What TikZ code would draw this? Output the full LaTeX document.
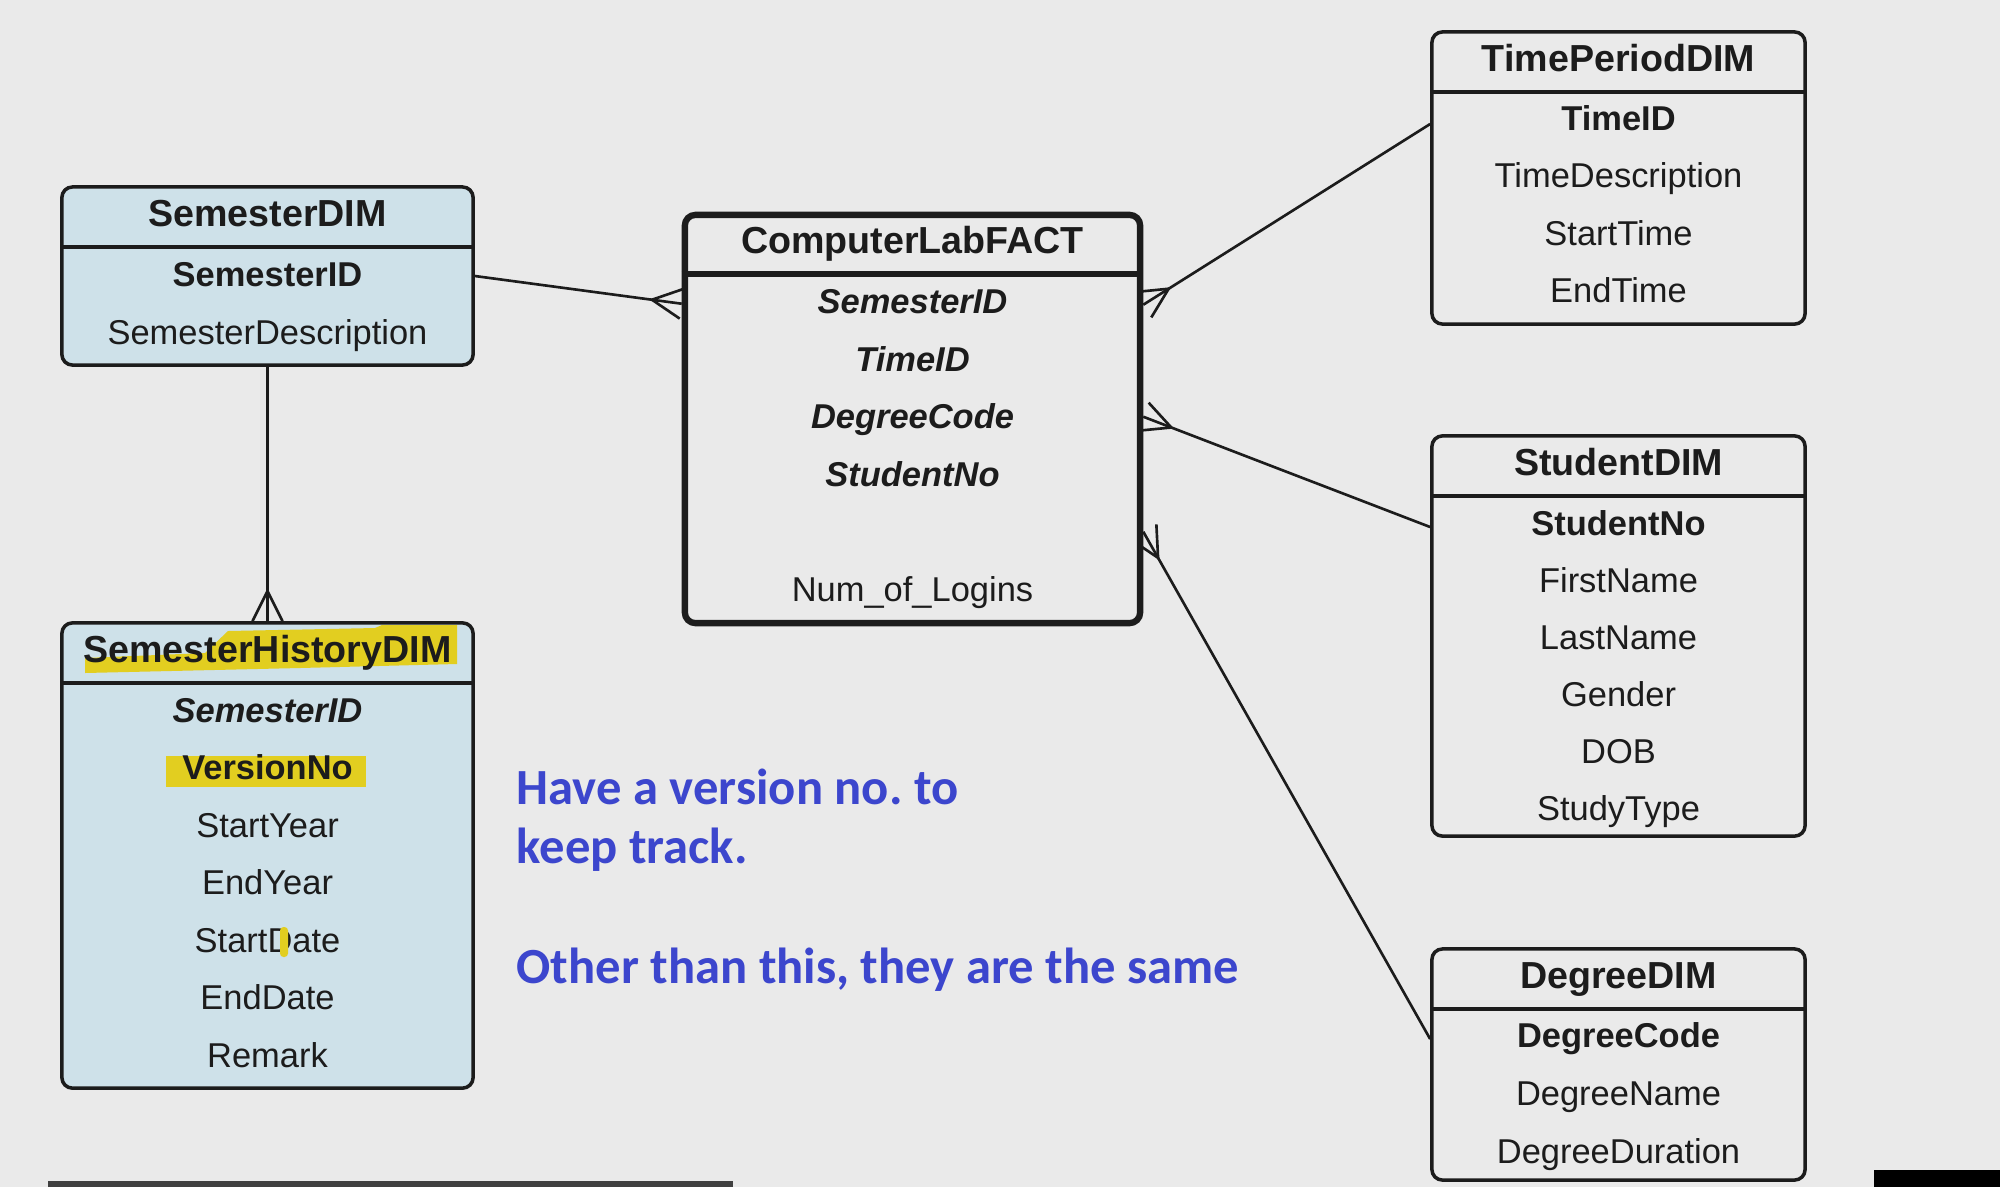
\documentclass[tikz,border=0pt]{standalone}
\usepackage{fontspec}
\setmainfont{Liberation Sans}
\newfontfamily\notefont{Carlito}
\usetikzlibrary{calc,positioning,backgrounds}
\frenchspacing

\definecolor{bggray}{RGB}{234,234,234}
\definecolor{dimblue}{RGB}{206,225,233}
\definecolor{inkblack}{RGB}{28,28,28}
\definecolor{noteblue}{RGB}{60,70,205}
\definecolor{marker}{RGB}{226,206,32}

\tikzset{
  dimtable/.style={draw=inkblack, line width=1pt, rounded corners=3pt, fill=bggray, inner sep=0pt},
  facttable/.style={dimtable, line width=1.8pt},
  tbltitle/.style={font=\fontsize{10.7}{13}\selectfont\bfseries, text=inkblack, inner sep=0pt, text height=7.7pt, text depth=0pt},
  tblfield/.style={font=\fontsize{9.8}{12}\selectfont, text=inkblack, inner sep=0pt, text height=7pt, text depth=0pt},
  notetext/.style={font=\notefont\fontsize{14.4}{17}\selectfont\bfseries, text=noteblue, inner sep=0pt, anchor=base west},
  relline/.style={draw=inkblack, line width=0.75pt},
}

% line with a crow's foot at the "many" end (#2)
\newcommand{\crowfoot}[2]{%
  \draw[relline] (#1) -- (#2);
  \draw[relline] ($(#2)!0.15cm!90:(#1)$) -- ($(#2)!0.3cm!(#1)$) -- ($(#2)!0.15cm!-90:(#1)$);
}
% line under the table name
\newcommand{\headline}[2][1pt]{%
  \draw[inkblack, line width=#1] ($(#2.north west)+(0,62)$) -- ($(#2.north east)+(0,62)$);
}

\begin{document}
\begin{tikzpicture}[x=0.01cm, y=-0.01cm]
    \useasboundingbox (0,0) rectangle (2000,1187);

    % tables
    \node[dimtable, fill=dimblue, minimum width=4.11cm, minimum height=1.78cm] (semdim) at (267.5,276) {};
    \node[dimtable, fill=dimblue, minimum width=4.11cm, minimum height=4.65cm] (semhist) at (267.5,855.5) {};
    \node[facttable, minimum width=4.55cm, minimum height=4.08cm] (fact) at (912.5,419) {};
    \node[dimtable, minimum width=3.73cm, minimum height=2.92cm] (timedim) at (1618.5,178) {};
    \node[dimtable, minimum width=3.73cm, minimum height=4.00cm] (studdim) at (1618.5,636) {};
    \node[dimtable, minimum width=3.73cm, minimum height=2.31cm] (degdim) at (1618.5,1064.5) {};

    \headline{semdim}
    \headline{semhist}
    \headline[1.8pt]{fact}
    \headline{timedim}
    \headline{studdim}
    \headline{degdim}

    % marker strokes
    \fill[marker] (85,658) -- (205,653) -- (228,631) -- (375,628) -- (382,625)
        -- (457,625) -- (457,664) -- (300,668) -- (85,673) -- cycle;
    \fill[marker] (166,756) rectangle (366,787);

    % names
    \node[tbltitle] (semdim-t) at ($(semdim.north)+(0,28)$) {SemesterDIM};
    \node[tbltitle] (semhist-t) at ($(semhist.north)+(0,28)$) {SemesterHistoryDIM};
    \node[tbltitle] (fact-t) at ($(fact.north)+(0,28.5)$) {ComputerLabFACT};
    \node[tbltitle] (timedim-t) at ($(timedim.north)+(0,28)$) {TimePeriodDIM};
    \node[tbltitle] (studdim-t) at ($(studdim.north)+(0,28)$) {StudentDIM};
    \node[tbltitle] (degdim-t) at ($(degdim.north)+(0,28)$) {DegreeDIM};

    % fields
    \foreach \f [count=\i] in {\textbf{SemesterID}, SemesterDescription}
        \node[tblfield] (semdim-\i) at ($(semdim.north)+(0,{89+57.5*(\i-1)})$) {\f};
    \foreach \f [count=\i] in {\textbf{\textit{SemesterID}}, \textbf{VersionNo}, StartYear, EndYear, StartDate, EndDate, Remark}
        \node[tblfield] (semhist-\i) at ($(semhist.north)+(0,{89+57.5*(\i-1)})$) {\f};
    \foreach \i/\f in {1/\textbf{\textit{SemesterID}}, 2/\textbf{\textit{TimeID}}, 3/\textbf{\textit{DegreeCode}}, 4/\textbf{\textit{StudentNo}}, 6/Num\_of\_Logins}
        \node[tblfield] (fact-\i) at ($(fact.north)+(0,{89.5+57.5*(\i-1)})$) {\f};
    \foreach \f [count=\i] in {\textbf{TimeID}, TimeDescription, StartTime, EndTime}
        \node[tblfield] (timedim-\i) at ($(timedim.north)+(0,{88+57.5*(\i-1)})$) {\f};
    \foreach \f [count=\i] in {\textbf{StudentNo}, FirstName, LastName, Gender, DOB, StudyType}
        \node[tblfield] (studdim-\i) at ($(studdim.north)+(0,{89+57*(\i-1)})$) {\f};
    \foreach \f [count=\i] in {\textbf{DegreeCode}, DegreeName, DegreeDuration}
        \node[tblfield] (degdim-\i) at ($(degdim.north)+(0,{88+58*(\i-1)})$) {\f};

    \fill[marker, rounded corners=1pt] (280,927) rectangle (288,957);

    % remark
    \node[notetext] (note-a) at (516,804) {Have a version no. to};
    \node[notetext] (note-b) at (516,863) {keep track.};
    \node[notetext] (note-c) at (516,983) {Other than this, they are the same};

    % player bars
    \fill[black!75] (48,1181) rectangle (733,1187);
    \fill[black] (1874,1170) rectangle (2000,1187);

    \coordinate (fact-sem) at ($(fact.north west)+(0,92)$);
    \coordinate (fact-time) at ($(fact.north east)+(0,93)$);
    \coordinate (fact-stud) at ($(fact.north east)+(0,205)$);
    \coordinate (fact-deg) at ($(fact.north east)+(0,320)$);
    \coordinate (time-in) at ($(timedim.west)+(0,-54)$);
    \coordinate (stud-in) at ($(studdim.west)+(0,-109)$);
    \coordinate (deg-in) at ($(degdim.west)+(0,-25.5)$);

    \begin{scope}[on background layer]
        \fill[bggray] (0,0) rectangle (2000,1187);
        \crowfoot{semdim.east}{fact-sem}
        \crowfoot{semdim.south}{semhist.north}
        \crowfoot{time-in}{fact-time}
        \crowfoot{stud-in}{fact-stud}
        \crowfoot{deg-in}{fact-deg}
    \end{scope}
\end{tikzpicture}
\end{document}
